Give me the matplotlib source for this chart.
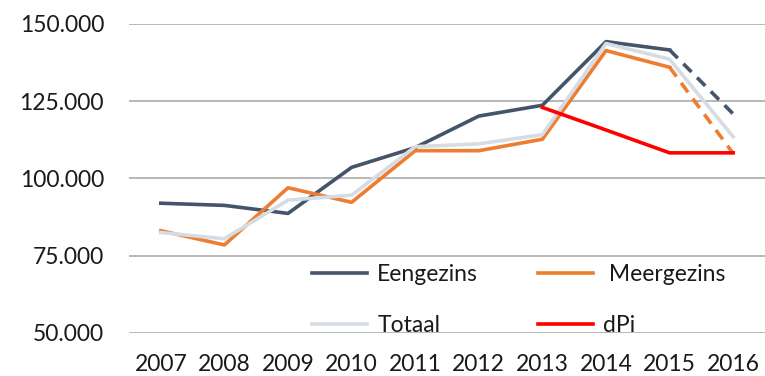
import matplotlib.pyplot as plt
from matplotlib.ticker import FuncFormatter

# Yearly series
years = ['2007', '2008', '2009', '2010', '2011', '2012', '2013', '2014', '2015', '2016']
eengezins = [92000, 91300, 88700, 103600, 110000, 120200, 123700, 144300, 141600, 120900]
meergezins = [83100, 78500, 97000, 92300, 109000, 109000, 112700, 141400, 136000, 108100]
totaal = [82500, 80500, 93000, 94600, 110300, 111200, 114200, 143700, 138600, 113500]
dpi_years = ['2013', '2014', '2015', '2016']
dpi_values = [123000, 115700, 108300, 108300]

plt.rcParams['font.family'] = ['Lato', 'DejaVu Sans']

fig = plt.figure(figsize=(7.65, 3.76), dpi=100)
ax = fig.add_axes([129 / 765, 1 - 333 / 376, 1 - 129 / 765, (333 - 24) / 376])

x = list(range(len(years)))
xd = [years.index(y) for y in dpi_years]
lw = 2.6

# last year is a forecast: dashed for the two dwelling types
ax.plot(x[8:], eengezins[8:], color='#44546A', lw=lw, ls=(0, (3.2, 2.2)))
ax.plot(x[8:], meergezins[8:], color='#ED7D31', lw=lw, ls=(0, (3.2, 2.2)))
l1, = ax.plot(x[:9], eengezins[:9], color='#44546A', lw=lw, label='Eengezins')
l2, = ax.plot(x[:9], meergezins[:9], color='#ED7D31', lw=lw, label=' Meergezins')
l3, = ax.plot(x, totaal, color='#D6DCE4', lw=lw, label='Totaal')
l4, = ax.plot(xd, dpi_values, color='#FF0000', lw=lw, label='dPi')

ax.set_xlim(-0.5, 9.5)
ax.set_ylim(50000, 150000)
ax.set_yticks([50000, 75000, 100000, 125000, 150000])
ax.yaxis.set_major_formatter(FuncFormatter(lambda v, p: f'{int(v):,}'.replace(',', '.')))
ax.set_xticks(x)
ax.set_xticklabels(years)
ax.tick_params(length=0, labelsize=16.5, colors='#1a1a1a')
ax.tick_params(axis='x', pad=15)
ax.tick_params(axis='y', pad=18)
ax.grid(axis='y', color='#ABABAB', lw=1.2)
ax.set_axisbelow(True)
for s in ax.spines.values():
    s.set_visible(False)

leg = fig.legend(handles=[l1, l3, l2, l4], ncol=2, frameon=False, fontsize=16.5,
                 loc='upper left', bbox_to_anchor=(312 / 765, 1 - 264 / 376),
                 borderpad=0, borderaxespad=0, handlelength=2.4, handletextpad=0.45,
                 columnspacing=2.6, labelspacing=1.3)
for t in leg.get_texts():
    t.set_color('#1a1a1a')

fig.savefig('out.png', dpi=100)
